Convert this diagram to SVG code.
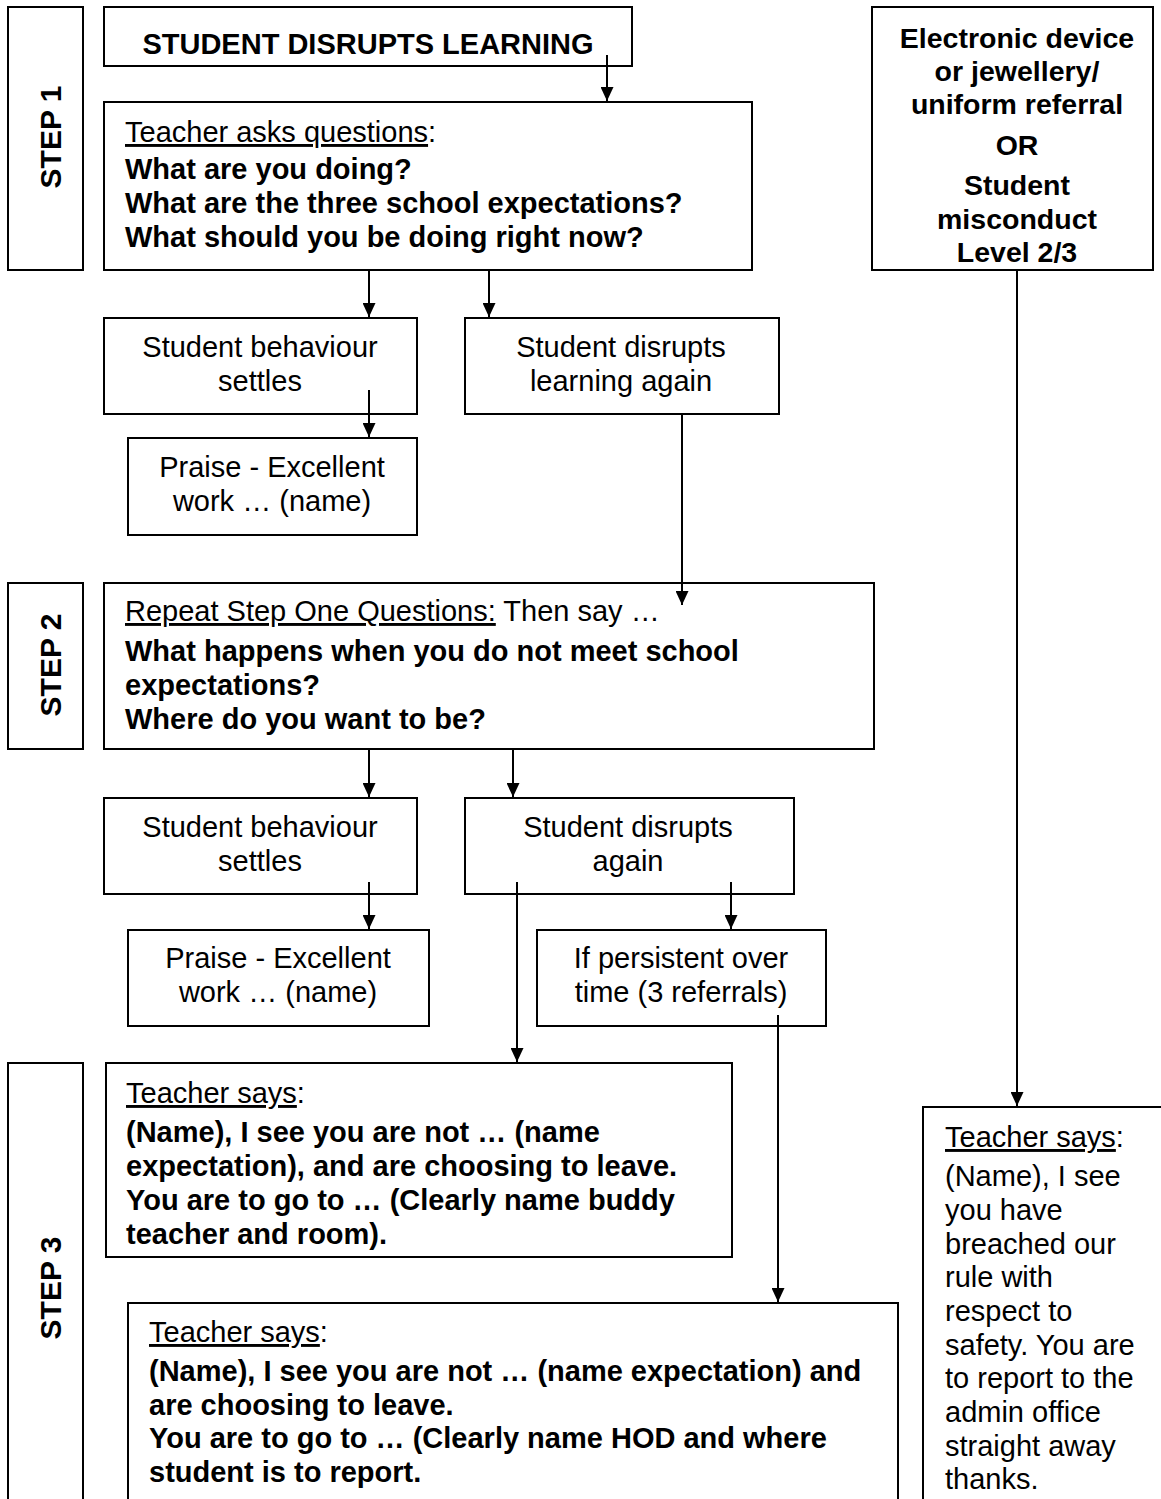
<svg xmlns="http://www.w3.org/2000/svg" width="1161" height="1499" viewBox="0 0 1161 1499">
<defs>
<style>
.box{fill:#fff;stroke:#000;stroke-width:2}
.t{font-family:"Liberation Sans",Arial,sans-serif;font-size:29px;fill:#000}
.b{font-weight:bold}
.c{text-anchor:middle}
.step{font-family:"Liberation Sans",Arial,sans-serif;font-size:30px;font-weight:bold;text-anchor:middle;fill:#000}
.conn line{stroke:#000;stroke-width:2;marker-end:url(#ah)}
</style>
<marker id="ah" markerUnits="userSpaceOnUse" markerWidth="15" markerHeight="13" refX="14" refY="6.5" orient="auto" viewBox="0 0 15 13">
<path d="M0,0 L14,6.5 L0,13 z" fill="#000"/>
</marker>
</defs>
<rect width="1161" height="1499" fill="#fff"/>

<g id="step1">
<rect class="box" x="8" y="7" width="75" height="263"/>
<text class="step" transform="translate(61,137) rotate(-90)">STEP 1</text>
</g>
<g id="step2">
<rect class="box" x="8" y="583" width="75" height="166"/>
<text class="step" transform="translate(61,665) rotate(-90)">STEP 2</text>
</g>
<g id="step3">
<rect class="box" x="8" y="1063" width="75" height="450"/>
<text class="step" transform="translate(61,1288) rotate(-90)">STEP 3</text>
</g>

<g id="start">
<rect class="box" x="104" y="7" width="528" height="59"/>
<text class="t b c" x="368" y="54">STUDENT DISRUPTS LEARNING</text>
</g>

<g id="ask">
<rect class="box" x="104" y="102" width="648" height="168"/>
<text class="t" x="125" y="142"><tspan text-decoration="underline">Teacher asks questions</tspan>:</text>
<text class="t b" x="125" y="179">What are you doing?</text>
<text class="t b" x="125" y="213">What are the three school expectations?</text>
<text class="t b" x="125" y="247">What should you be doing right now?</text>
</g>

<g id="settle1">
<rect class="box" x="104" y="318" width="313" height="96"/>
<text class="t c" x="260" y="357">Student behaviour</text>
<text class="t c" x="260" y="391">settles</text>
</g>
<g id="praise1">
<rect class="box" x="128" y="438" width="289" height="97"/>
<text class="t c" x="272" y="477">Praise - Excellent</text>
<text class="t c" x="272" y="511">work … (name)</text>
</g>
<g id="disrupt1">
<rect class="box" x="465" y="318" width="314" height="96"/>
<text class="t c" x="621" y="357">Student disrupts</text>
<text class="t c" x="621" y="391">learning again</text>
</g>

<g id="repeat">
<rect class="box" x="104" y="583" width="770" height="166"/>
<text class="t" x="125" y="621"><tspan text-decoration="underline">Repeat Step One Questions:</tspan> Then say …</text>
<text class="t b" x="125" y="661">What happens when you do not meet school</text>
<text class="t b" x="125" y="695">expectations?</text>
<text class="t b" x="125" y="729">Where do you want to be?</text>
</g>

<g id="settle2">
<rect class="box" x="104" y="798" width="313" height="96"/>
<text class="t c" x="260" y="837">Student behaviour</text>
<text class="t c" x="260" y="871">settles</text>
</g>
<g id="praise2">
<rect class="box" x="128" y="930" width="301" height="96"/>
<text class="t c" x="278" y="968">Praise - Excellent</text>
<text class="t c" x="278" y="1002">work … (name)</text>
</g>
<g id="disrupt2">
<rect class="box" x="465" y="798" width="329" height="96"/>
<text class="t c" x="628" y="837">Student disrupts</text>
<text class="t c" x="628" y="871">again</text>
</g>
<g id="persistent">
<rect class="box" x="537" y="930" width="289" height="96"/>
<text class="t c" x="681" y="968">If persistent over</text>
<text class="t c" x="681" y="1002">time (3 referrals)</text>
</g>

<g id="buddy">
<rect class="box" x="106" y="1063" width="626" height="194"/>
<text class="t" x="126" y="1103"><tspan text-decoration="underline">Teacher says</tspan>:</text>
<text class="t b" x="126" y="1142">(Name), I see you are not … (name</text>
<text class="t b" x="126" y="1176">expectation), and are choosing to leave.</text>
<text class="t b" x="126" y="1210">You are to go to … (Clearly name buddy</text>
<text class="t b" x="126" y="1244">teacher and room).</text>
</g>

<g id="hod">
<rect class="box" x="128" y="1303" width="770" height="220"/>
<text class="t" x="149" y="1342"><tspan text-decoration="underline">Teacher says</tspan>:</text>
<text class="t b" x="149" y="1381">(Name), I see you are not … (name expectation) and</text>
<text class="t b" x="149" y="1415">are choosing to leave.</text>
<text class="t b" x="149" y="1448">You are to go to … (Clearly name HOD and where</text>
<text class="t b" x="149" y="1482">student is to report.</text>
</g>

<g id="device">
<rect class="box" x="872" y="7" width="281" height="263"/>
<text class="t b c" x="1017" y="48" style="font-size:28.5px">Electronic device</text>
<text class="t b c" x="1017" y="81" style="font-size:28.5px">or jewellery/</text>
<text class="t b c" x="1017" y="114" style="font-size:28.5px">uniform referral</text>
<text class="t b c" x="1017" y="155" style="font-size:28.5px">OR</text>
<text class="t b c" x="1017" y="195" style="font-size:28.5px">Student</text>
<text class="t b c" x="1017" y="229" style="font-size:28.5px">misconduct</text>
<text class="t b c" x="1017" y="262" style="font-size:28.5px">Level 2/3</text>
</g>

<g id="admin">
<rect class="box" x="923" y="1107" width="260" height="420"/>
<text class="t" x="945" y="1147"><tspan text-decoration="underline">Teacher says</tspan>:</text>
<text class="t" x="945" y="1186">(Name), I see</text>
<text class="t" x="945" y="1220">you have</text>
<text class="t" x="945" y="1254">breached our</text>
<text class="t" x="945" y="1287">rule with</text>
<text class="t" x="945" y="1321">respect to</text>
<text class="t" x="945" y="1355">safety. You are</text>
<text class="t" x="945" y="1388">to report to the</text>
<text class="t" x="945" y="1422">admin office</text>
<text class="t" x="945" y="1456">straight away</text>
<text class="t" x="945" y="1489">thanks.</text>
</g>

<g id="connectors" class="conn">
<line x1="607" y1="55" x2="607" y2="101"/>
<line x1="369" y1="271" x2="369" y2="317"/>
<line x1="489" y1="271" x2="489" y2="317"/>
<line x1="369" y1="390" x2="369" y2="437"/>
<line x1="682" y1="415" x2="682" y2="605"/>
<line x1="369" y1="750" x2="369" y2="797"/>
<line x1="513" y1="750" x2="513" y2="797"/>
<line x1="369" y1="882" x2="369" y2="929"/>
<line x1="517" y1="882" x2="517" y2="1062"/>
<line x1="731" y1="882" x2="731" y2="929"/>
<line x1="778" y1="1015" x2="778" y2="1302"/>
<line x1="1017" y1="271" x2="1017" y2="1106"/>
</g>
</svg>
